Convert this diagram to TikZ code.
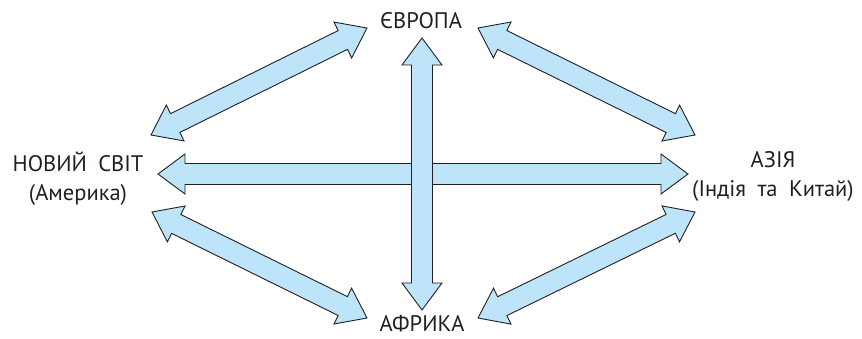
\documentclass[tikz,border=0pt]{standalone}
\usepackage{fontspec}
\setmainfont{PT Sans}[WordSpace=1.9]
\usetikzlibrary{calc}
\definecolor{arrfill}{RGB}{189,228,248}
\definecolor{arrline}{RGB}{35,31,32}
\definecolor{txt}{RGB}{35,31,32}
\newcommand\hl{27pt}
\newcommand\hw{20pt}
\newcommand\sw{10.5pt}
\newcommand\dblarr[2]{%
  \filldraw[arrowbody] (#1)
    -- ($(#1)!\hl!(#2)!\hw!90:(#2)$)
    -- ($(#1)!\hl!(#2)!\sw!90:(#2)$)
    -- ($(#2)!\hl!(#1)!\sw!-90:(#1)$)
    -- ($(#2)!\hl!(#1)!\hw!-90:(#1)$)
    -- (#2)
    -- ($(#2)!\hl!(#1)!\hw!90:(#1)$)
    -- ($(#2)!\hl!(#1)!\sw!90:(#1)$)
    -- ($(#1)!\hl!(#2)!\sw!-90:(#2)$)
    -- ($(#1)!\hl!(#2)!\hw!-90:(#2)$)
    -- cycle;}
\tikzset{
  arrowbody/.style={fill=arrfill, draw=arrline, line width=0.9pt, line join=miter},
  label/.style={text=txt, font=\fontsize{22.5}{29}\selectfont, inner sep=0pt, align=center}
}
\begin{document}
\begin{tikzpicture}[x=1pt,y=-1pt]
\useasboundingbox (0,0) rectangle (862,338);
\node[label, anchor=base] (eu) at (421,28) {ЄВРОПА};
\node[label, anchor=base] (af) at (422,331.5) {АФРИКА};
\node[label, anchor=north] (am) at (78,151.5) {НОВИЙ СВІТ\\(Америка)};
\node[label, anchor=north] (as) at (773,151.5) {АЗІЯ\\(Індія та Китай)};
\coordinate (vT) at (422,38);
\coordinate (vB) at (422,310);
\coordinate (hL) at (158,174);
\coordinate (hR) at (688,174);
\coordinate (ulA) at (151,135);
\coordinate (ulB) at (367,28);
\coordinate (urA) at (478,28);
\coordinate (urB) at (695,135);
\coordinate (llA) at (152,212);
\coordinate (llB) at (367,318);
\coordinate (lrA) at (478,318);
\coordinate (lrB) at (695,212);
\dblarr{ulA}{ulB}
\dblarr{urA}{urB}
\dblarr{llA}{llB}
\dblarr{lrA}{lrB}
\dblarr{hL}{hR}
\dblarr{vT}{vB}
\end{tikzpicture}
\end{document}
